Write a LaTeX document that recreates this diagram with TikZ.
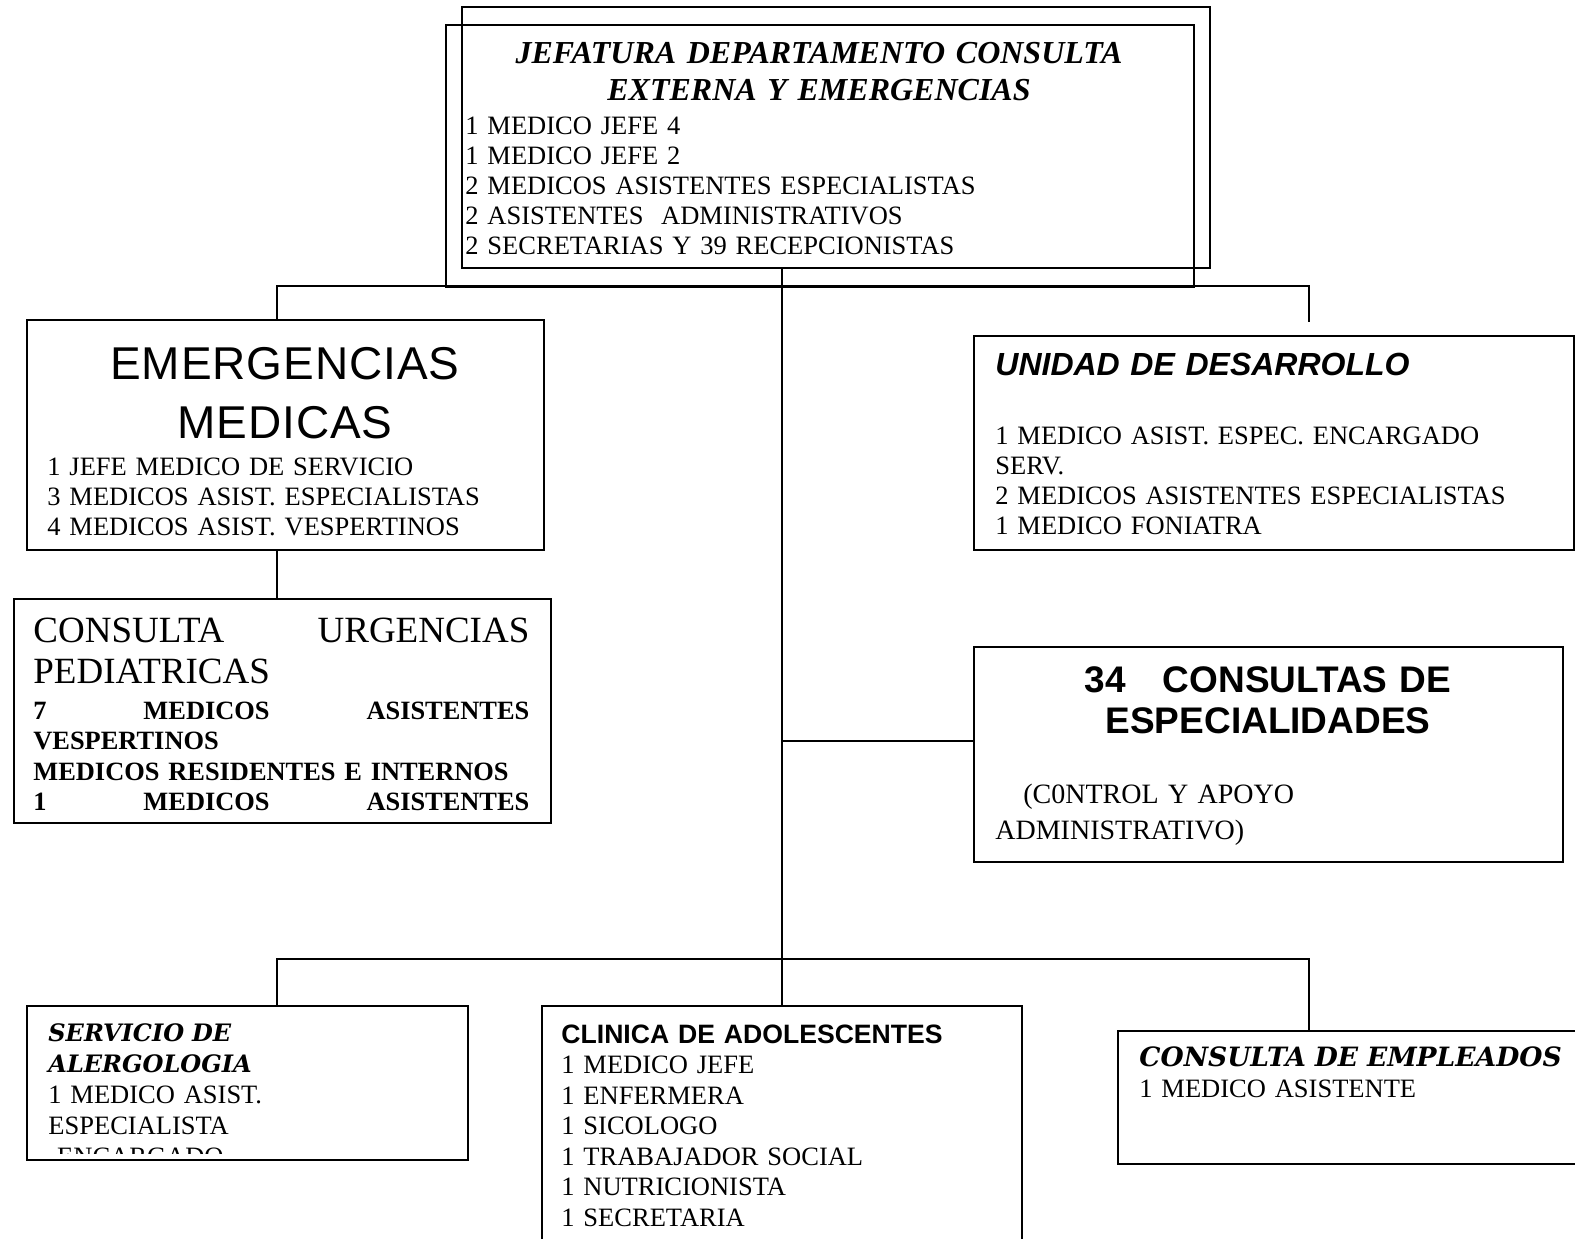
\documentclass[tikz,border=0pt]{standalone}
\usepackage{fontspec}
\setmainfont{Liberation Serif}
\newfontfamily\arialfont{Liberation Sans}
\newfontfamily\arialancha[LetterSpace=2]{Liberation Sans}
\newfontfamily\bookfont{DejaVu Serif}
\usepackage{tikz}

\newcommand{\cuerpo}{\fontsize{13.25}{15}\selectfont}

\begin{document}
\begin{tikzpicture}[x=0.5pt,y=-0.5pt,
    caja/.style={draw,line width=1.2pt,inner sep=0pt,anchor=north west},
    texto/.style={anchor=base west,inner sep=0pt,align=left,font=\cuerpo},
    titulo/.style={anchor=base,inner sep=0pt,align=center},
    linea/.style={line width=1pt}]
    \useasboundingbox (0,0) rectangle (1575,1238);

    % Jefatura (two frames)
    \node[caja,minimum width=374pt,minimum height=130.5pt] (jefemarco) at (461,6) {};
    \node[caja,minimum width=374pt,minimum height=131pt] (jefatura) at (445,24) {};
    \node[titulo,text width=360pt,font=\fontsize{16}{18.5}\selectfont\bfseries\itshape] (jefetitulo) at (819,63)
        {JEFATURA DEPARTAMENTO CONSULTA\\EXTERNA Y EMERGENCIAS};
    \node[texto,text width=360pt] (jefetexto) at (465,134)
        {1 MEDICO JEFE 4\\1 MEDICO JEFE 2\\2 MEDICOS ASISTENTES ESPECIALISTAS\\2 ASISTENTES\ \ ADMINISTRATIVOS\\2 SECRETARIAS Y 39 RECEPCIONISTAS};

    % Emergencias
    \node[caja,minimum width=258.5pt,minimum height=115pt] (emerg) at (26,319) {};
    \node[titulo,text width=250pt,font=\arialancha\fontsize{23}{29.75}\selectfont] (emergtitulo) at (285,379)
        {EMERGENCIAS\\MEDICAS};
    \node[texto,text width=240pt] (emergtexto) at (47,475)
        {1 JEFE MEDICO DE SERVICIO\\3 MEDICOS ASIST. ESPECIALISTAS\\4 MEDICOS ASIST. VESPERTINOS};

    \node[caja,minimum width=268.5pt,minimum height=112pt] (urgencias) at (13,598) {};
    \node[texto,text width=248pt,font=\fontsize{18.5}{20.5}\selectfont] (urgtitulo) at (33,642)
        {CONSULTA\hfill URGENCIAS\\PEDIATRICAS};
    \node[texto,text width=248pt,font=\fontsize{13.2}{15.25}\selectfont\bfseries] (urgtexto) at (33,719)
        {7\hfill MEDICOS\hfill ASISTENTES\\VESPERTINOS\\MEDICOS RESIDENTES E INTERNOS\\1\hfill MEDICOS\hfill ASISTENTES};

    % Unidad / especialidades
    \node[caja,minimum width=300pt,minimum height=107pt] (unidad) at (973,335) {};
    \node[texto,text width=280pt,font=\arialfont\fontsize{16}{18}\selectfont\bfseries\itshape] (unidadtitulo) at (995,375.5)
        {UNIDAD DE DESARROLLO};
    \node[texto,text width=280pt] (unidadtexto) at (995,444)
        {1 MEDICO ASIST. ESPEC. ENCARGADO\\SERV.\\2 MEDICOS ASISTENTES ESPECIALISTAS\\1 MEDICO FONIATRA};

    \node[caja,minimum width=294.5pt,minimum height=107.5pt] (especial) at (973,646) {};
    \node[titulo,text width=280pt,font=\arialfont\fontsize{18.5}{20.5}\selectfont\bfseries] (especialtitulo) at (1268,692)
        {34\ \ \ CONSULTAS DE\\ESPECIALIDADES};
    \node[texto,text width=280pt,font=\fontsize{14}{18}\selectfont] (especialtexto) at (995,803)
        {\ \ \ (C0NTROL Y APOYO\\ADMINISTRATIVO)};

    % Bottom row
    \node[caja,minimum width=220.5pt,minimum height=77pt] (servicio) at (26,1005) {};
    \begin{scope}
        \clip (26,1005) rectangle (467,1153);  % text cut by the box
        \node[texto,text width=200pt,font=\bookfont\fontsize{12}{15.6}\selectfont\bfseries\itshape] (serviciotitulo) at (48,1041)
            {SERVICIO DE\\ALERGOLOGIA};
        \node[texto,text width=200pt,font=\fontsize{13.25}{15.6}\selectfont] (serviciotexto) at (48,1103.5)
            {1 MEDICO ASIST.\\ESPECIALISTA\\\ ENCARGADO};
    \end{scope}

    \node[caja,minimum width=240pt,minimum height=130pt] (clinica) at (541,1005) {};
    \node[texto,text width=220pt,font=\arialfont\fontsize{13.3}{15}\selectfont\bfseries] (clinicatitulo) at (561,1043)
        {CLINICA DE ADOLESCENTES};
    \node[texto,text width=220pt,font=\fontsize{13.25}{15.25}\selectfont] (clinicatexto) at (561,1073.5)
        {1 MEDICO JEFE\\1 ENFERMERA\\1 SICOLOGO\\1 TRABAJADOR SOCIAL\\1 NUTRICIONISTA\\1 SECRETARIA};

    \node[caja,minimum width=235pt,minimum height=66.5pt] (empleados) at (1117,1030) {};
    \node[texto,text width=225pt,font=\bookfont\fontsize{13.3}{16}\selectfont\bfseries\itshape] (empleadostitulo) at (1139,1066)
        {CONSULTA DE EMPLEADOS};
    \node[texto,text width=220pt] (empleadostexto) at (1139,1097.5)
        {1 MEDICO ASISTENTE};

    % Connectors
    \coordinate (ramaizq) at (277,286);
    \coordinate (ramader) at (1309,286);
    \coordinate (ramaderfin) at (1309,322);
    \coordinate (ramaizqb) at (277,959);
    \coordinate (ramaderb) at (1309,959);
    \coordinate (enlace) at (781,741);

    \draw[linea] (jefemarco.south -| clinica.north) -- (clinica.north);  % trunk
    \draw[linea] (ramaizq |- emerg.north) -- (ramaizq) -- (ramader) -- (ramaderfin);
    \draw[linea] (emerg.south -| ramaizq) -- (urgencias.north -| ramaizq);
    \draw[linea] (enlace) -- (enlace -| especial.west);
    \draw[linea] (servicio.north -| ramaizqb) -- (ramaizqb) -- (ramaderb) -- (ramaderb |- empleados.north);
\end{tikzpicture}
\end{document}
